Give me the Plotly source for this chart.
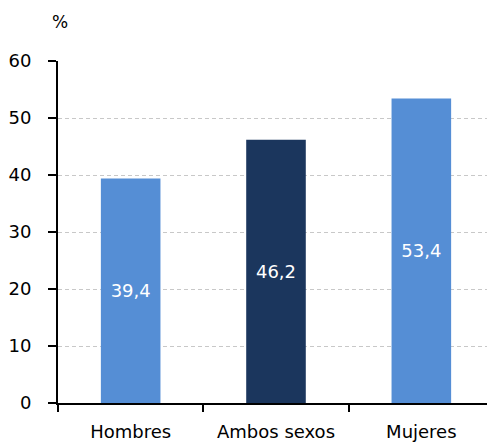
import plotly.graph_objects as go

categories = ["Hombres", "Ambos sexos", "Mujeres"]
values = [39.4, 46.2, 53.4]
labels = ["39,4", "46,2", "53,4"]
colors = ["#558ED5", "#1B365D", "#558ED5"]
y_ticks = [0, 10, 20, 30, 40, 50, 60]

FONT = "DejaVu Sans"

fig = go.Figure(go.Bar(
    x=categories, y=values, text=labels,
    marker=dict(color=colors, line=dict(width=0)),
    width=0.41,
    textposition="inside", insidetextanchor="middle",
    textfont=dict(color="white", size=18, family=FONT),
    textangle=0,
    hoverinfo="skip",
))

# page body has an 8px margin, so compensate here
fig.update_layout(
    width=487, height=437,
    margin=dict(l=50, r=1, t=53, b=42),
    paper_bgcolor="white", plot_bgcolor="white",
    showlegend=False,
    font=dict(family=FONT, size=18, color="black"),
    annotations=[dict(text="%", xref="paper", yref="paper", x=0.0, y=1.0,
                      xanchor="center", yanchor="middle", yshift=39, xshift=2,
                      showarrow=False, font=dict(size=17, color="black", family=FONT))],
)
fig.update_xaxes(
    type="category", tickson="boundaries", ticks="outside", ticklen=7,
    tickcolor="black", tickwidth=1.5,
    showline=True, linecolor="black", linewidth=2,
    showgrid=False, range=[-0.5, 2.5], automargin=False,
    tickfont=dict(size=18, family=FONT), ticklabelstandoff=11,
)
fig.update_yaxes(
    range=[0, 60], tickvals=y_ticks, ticks="outside", ticklen=8,
    tickcolor="black", tickwidth=1.5,
    showline=True, linecolor="black", linewidth=2, automargin=False,
    showgrid=True, gridcolor="#C8C8C8", griddash="4px,3px", gridwidth=1,
    zeroline=False, tickfont=dict(size=18, family=FONT), ticklabelstandoff=13,
)

fig.write_html("out.html")
